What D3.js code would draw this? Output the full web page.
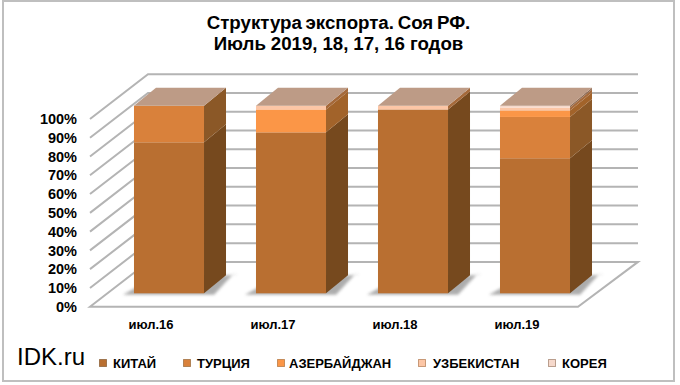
<!DOCTYPE html>
<html><head><meta charset="utf-8">
<script src="https://cdnjs.cloudflare.com/ajax/libs/d3/7.8.5/d3.min.js"></script>
<style>html,body{margin:0;padding:0;background:#fff}svg{display:block}text{font-family:"Liberation Sans",Arial,sans-serif;fill:#000}</style>
</head><body><svg id="c" width="680" height="385"></svg>
<script>
const categories = ["июл.16","июл.17","июл.18","июл.19"];
const seriesNames = ["КИТАЙ","ТУРЦИЯ","АЗЕРБАЙДЖАН","УЗБЕКИСТАН","КОРЕЯ"];
const china = [80.5,85.8,98,72];
const turkey = [19.5,0,0,22];
const azerbaijan = [0,12.2,0,3.5];
const uzbekistan = [0,2,2,1.5];
const korea = [0,0,0,1];
const yTicks = [0,10,20,30,40,50,60,70,80,90,100];
const titleLines = ["Структура экспорта. Соя РФ.","Июль 2019, 18, 17, 16 годов"];
const titleWordSpacing = [-1.5,-0.3];
const frontColors = ["#b96f31","#d9813b","#fb9647","#fcc6a6","#f6d9cc"];
const sideColors = ["#76491e","#8b5827","#a2632a","#a5693a","#8f6a52"];
const legendX = [99,183,277,418,548];
const legendTextX = [113,197,289,433,562];

const rows = categories.map((c,i)=>({c,[seriesNames[0]]:china[i],[seriesNames[1]]:turkey[i],[seriesNames[2]]:azerbaijan[i],[seriesNames[3]]:uzbekistan[i],[seriesNames[4]]:korea[i]}));
const stacked = d3.stack().keys(seriesNames)(rows);
const svg = d3.select("#c");
const defs = svg.append("defs");
defs.append("filter").attr("id","blur").attr("x","-30%").attr("y","-50%").attr("width","160%").attr("height","200%")
  .append("feGaussianBlur").attr("stdDeviation",1.8);

svg.append("rect").attr("x",3).attr("y",1).attr("width",671).attr("height",380).attr("fill","#fff").attr("stroke","#bfbfbf").attr("stroke-width",2);

const x = d3.scaleBand().domain(categories).range([90,578]).paddingInner(0.426).paddingOuter(0.213);
const yAxisScale = d3.scaleLinear().domain([0,100]).range([306.7,119]);
const yBar = d3.scaleLinear().domain([0,100]).range([293.3,105.7]);
const wall = {dx:58,dy:-44.8}, barShift = 18, depth = {dx:22,dy:-18};
const grid = "#b4b4b4";
const g = svg.append("g");

const y0 = yAxisScale(0);
g.append("path").attr("fill","#fff").attr("stroke",grid).attr("stroke-width",2)
 .attr("d",d3.line()([[90,y0],[90+wall.dx,y0+wall.dy],[578+wall.dx+2,y0+wall.dy],[578,y0]])+"Z");
yTicks.filter(t=>t>0).forEach(t=>{
  const y=yAxisScale(t);
  g.append("path").attr("fill","none").attr("stroke",grid).attr("stroke-width",2)
   .attr("d",d3.line()([[90,y],[90+wall.dx,y+wall.dy],[578+wall.dx+2,y+wall.dy]]));
});
const ax = d3.axisLeft(yAxisScale).tickValues(yTicks).tickSize(0).tickPadding(13).tickFormat(d=>d+"%");
const axG = svg.append("g").attr("transform","translate(90,0)").call(ax);
axG.select(".domain").remove();
axG.selectAll("text").attr("font-size",14.5).attr("font-weight","bold").attr("style",'font-family:"Liberation Sans";fill:#000');

categories.forEach(c=>{
  const l=x(c)+barShift, r=l+x.bandwidth(), b=yBar(0);
  g.append("path").attr("fill","#8a8a8a").attr("opacity",.7).attr("filter","url(#blur)")
   .attr("d",d3.line()([[l-11,b+1.5],[l+8,b-9],[r+depth.dx+12,b-19],[r+depth.dx+7,b-19],[r+10,b+1.5]])+"Z");
});
stacked.forEach((s,si)=>{
  s.forEach((d,i)=>{
    if(d[1]-d[0]<=0) return;
    const l=x(categories[i])+barShift, w=x.bandwidth(), r=l+w, yb=yBar(d[0]), yt=yBar(d[1]);
    g.append("rect").attr("x",l).attr("y",yt).attr("width",w).attr("height",yb-yt).attr("fill",frontColors[si]);
    g.append("path").attr("fill",sideColors[si])
     .attr("d",d3.line()([[r,yb],[r+depth.dx,yb+depth.dy],[r+depth.dx,yt+depth.dy],[r,yt]])+"Z");
  });
});
categories.forEach(c=>{
  const l=x(c)+barShift, r=l+x.bandwidth(), t=yBar(100);
  g.append("path").attr("fill","#bd9b86")
   .attr("d",d3.line()([[l,t],[l+depth.dx,t+depth.dy],[r+depth.dx,t+depth.dy],[r,t]])+"Z");
});
categories.forEach(c=>{
  svg.append("text").attr("x",x(c)+x.bandwidth()/2).attr("y",328.5).attr("text-anchor","middle")
   .attr("font-size",13).attr("font-weight","bold").text(c);
});
titleLines.forEach((t,i)=>{
  svg.append("text").attr("x",338.5).attr("y",28.5+i*21).attr("text-anchor","middle")
   .attr("font-size",18.7).attr("font-weight","bold").attr("word-spacing",titleWordSpacing[i]).text(t);
});
svg.append("text").attr("x",17).attr("y",365).attr("font-size",24).text("IDK.ru");
seriesNames.forEach((n,i)=>{
  svg.append("rect").attr("x",legendX[i]+.5).attr("y",359.5).attr("width",7).attr("height",7)
   .attr("fill",frontColors[i]).attr("stroke",sideColors[i]).attr("stroke-opacity",.6);
  svg.append("text").attr("x",legendTextX[i]).attr("y",367.5).attr("font-size",13).attr("font-weight","bold").text(n);
});
</script></body></html>
